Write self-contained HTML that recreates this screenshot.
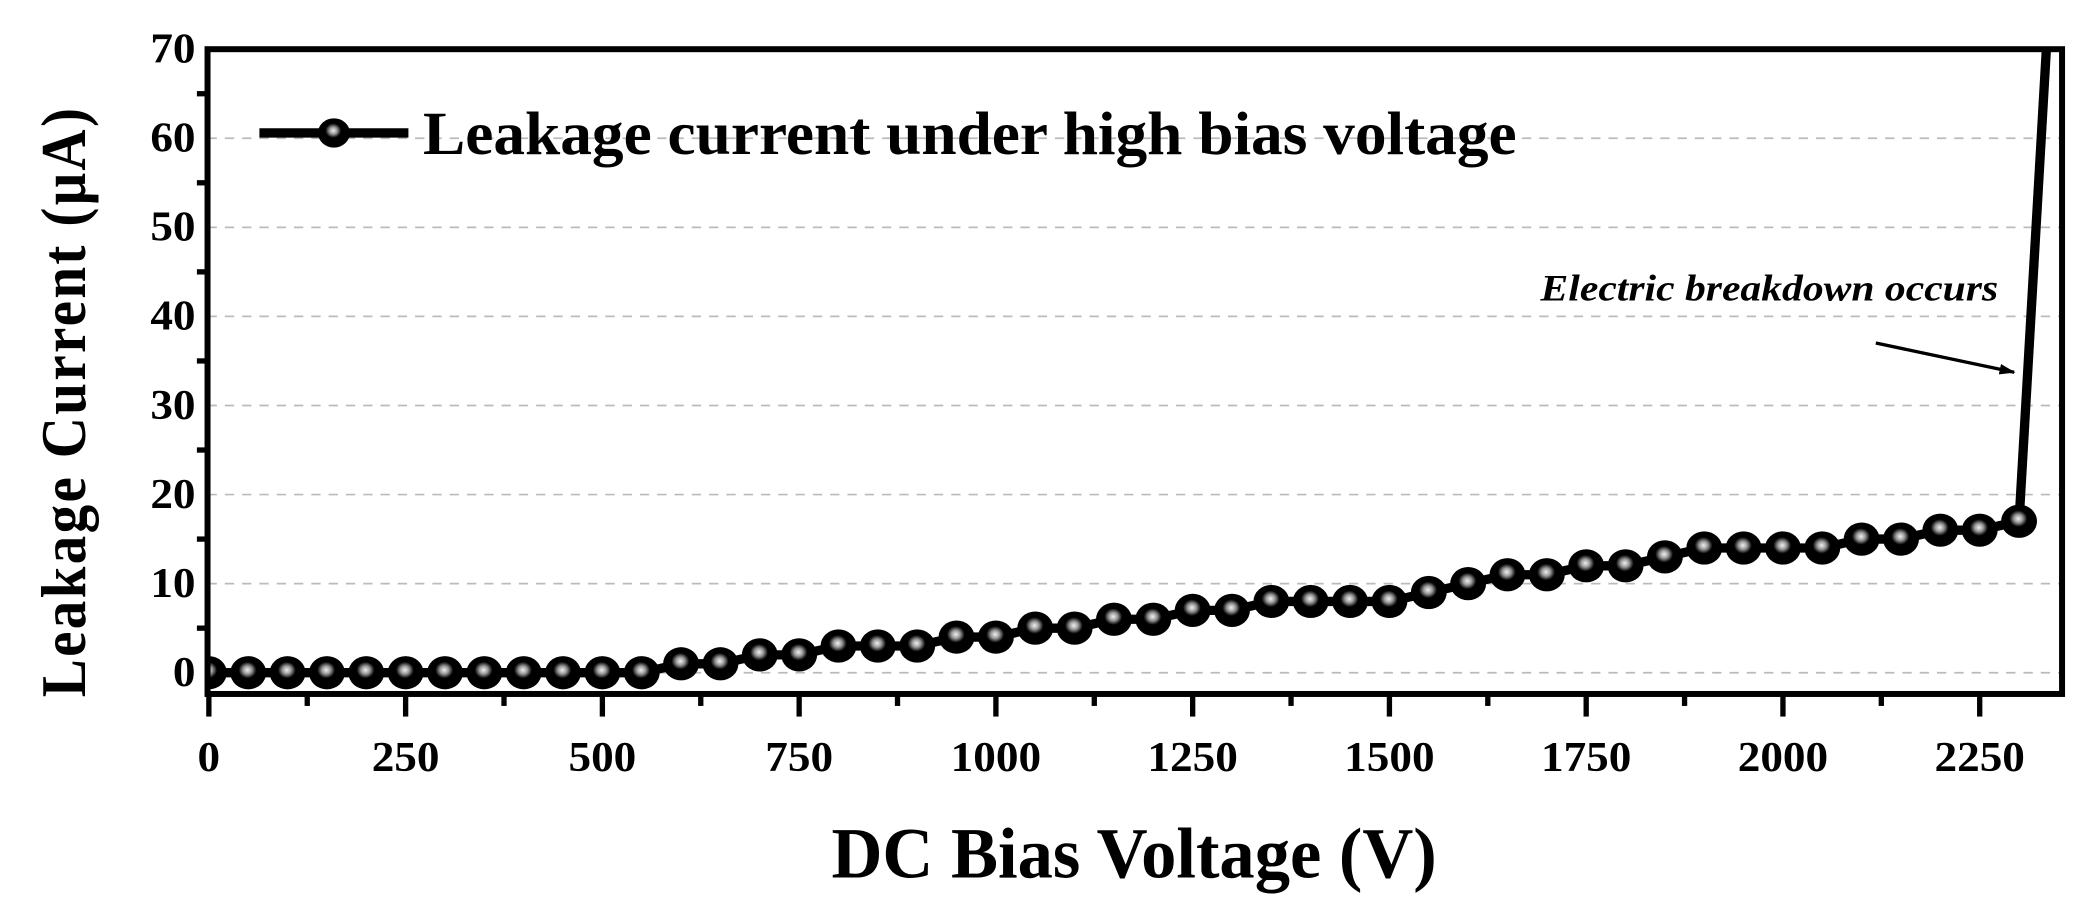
<!DOCTYPE html>
<html><head><meta charset="utf-8"><style>
html,body{margin:0;padding:0;background:#fff;}
svg{display:block;}
text{font-family:"Liberation Serif",serif;font-weight:bold;fill:#000;}
</style></head><body>
<svg id="chart" width="2086" height="912" viewBox="0 0 1568 686" preserveAspectRatio="none" xmlns="http://www.w3.org/2000/svg">
<defs>
<radialGradient id="ball" cx="0.48" cy="0.42" r="0.55">
<stop offset="0" stop-color="#f0f0f0"/><stop offset="0.22" stop-color="#999"/><stop offset="0.45" stop-color="#000"/><stop offset="1" stop-color="#000"/>
</radialGradient>
<marker id="arrowhead" markerWidth="12" markerHeight="8" refX="11" refY="4" orient="auto" markerUnits="userSpaceOnUse"><path d="M0,0 L12,4 L0,8 Z" fill="#000"/></marker>
</defs>
<g id="grid"></g>
<g id="series"></g>
<g id="axes"></g>
<text transform="translate(64,302) rotate(-90)" text-anchor="middle" font-size="48" textLength="445" lengthAdjust="spacingAndGlyphs" style="letter-spacing:2px">Leakage Current (μA)</text>
<text x="625" y="660" font-size="54" textLength="455" lengthAdjust="spacingAndGlyphs">DC Bias Voltage (V)</text>
<g>
<line x1="195" y1="100" x2="307" y2="100" stroke="#000" stroke-width="7"/>
<ellipse cx="251" cy="100" rx="12" ry="11" fill="url(#ball)"/>
<text x="318" y="116" font-size="46" textLength="822" lengthAdjust="spacingAndGlyphs">Leakage current under high bias voltage</text>
</g>
<text x="1158" y="226" font-size="28" font-style="italic" textLength="344" lengthAdjust="spacingAndGlyphs">Electric breakdown occurs</text>
<line x1="1410" y1="258" x2="1514" y2="280" stroke="#000" stroke-width="2.5" marker-end="url(#arrowhead)"/>
</svg>
<script>
const voltages=[0,50,100,150,200,250,300,350,400,450,500,550,600,650,700,750,800,850,900,950,1000,1050,1100,1150,1200,1250,1300,1350,1400,1450,1500,1550,1600,1650,1700,1750,1800,1850,1900,1950,2000,2050,2100,2150,2200,2250,2300];
const currents=[0,0,0,0,0,0,0,0,0,0,0,0,1,1,2,2,3,3,3,4,4,5,5,6,6,7,7,8,8,8,8,9,10,11,11,12,12,13,14,14,14,14,15,15,16,16,17];
const breakdownV=[2300,2336];
const breakdownI=[17,72];
const xTicks=[0,250,500,750,1000,1250,1500,1750,2000,2250];
const yTicks=[0,10,20,30,40,50,60,70];
const gridLevels=[0,10,20,30,40,50,60];
const NS="http://www.w3.org/2000/svg";
const L=156,R=1550,T=37,B=522;
const X=v=>157+v*0.5916;
const Y=c=>506-c*6.7;
function mk(tag,attrs,parent){const e=document.createElementNS(NS,tag);for(const k in attrs)e.setAttribute(k,attrs[k]);parent.appendChild(e);return e;}
const grid=document.getElementById('grid'),ser=document.getElementById('series'),ax=document.getElementById('axes');
gridLevels.forEach(g=>{const l=mk('line',{x1:L,x2:R,y1:Y(g),y2:Y(g),stroke:'#bbb','stroke-width':1.3,'stroke-dasharray':'7,6'},grid);

});
const cp=mk('clipPath',{id:'plotclip'},document.querySelector('defs'));mk('rect',{x:L,y:T,width:R-L,height:B-T},cp);
ser.setAttribute('clip-path','url(#plotclip)');
let d=voltages.map((v,i)=>(i?'L':'M')+X(v)+','+Y(currents[i])).join(' ');
d+=' L'+X(breakdownV[1])+','+Y(breakdownI[1]);
const p=mk('path',{d:d,fill:'none',stroke:'#000','stroke-width':7,'stroke-linejoin':'round'},ser);


voltages.forEach((v,i)=>{const e=mk('ellipse',{cx:X(v),cy:Y(currents[i]),rx:13.5,ry:12.5,fill:'url(#ball)'},ser);

});
const fr=mk('rect',{x:L,y:T,width:R-L,height:B-T,fill:'none',stroke:'#000','stroke-width':4.5},ax);


for(let v=0;v<=2250;v+=125){const major=v%250===0;const t=mk('line',{x1:X(v),x2:X(v),y1:B,y2:B+(major?17:9),stroke:'#000','stroke-width':4},ax);

}
xTicks.forEach(v=>{const w=String(v).length*17;const t=mk('text',{x:X(v)-w/2,y:B+58,'font-size':32,textLength:w,lengthAdjust:'spacingAndGlyphs'},ax);t.textContent=v;

});
for(let c=0;c<=70;c+=5){const major=c%10===0;const t=mk('line',{x1:L-(major?0:8),x2:L,y1:Y(c),y2:Y(c),stroke:'#000','stroke-width':4},ax);

}
yTicks.forEach(c=>{const w=String(c).length*17;const t=mk('text',{x:L-9-w,y:Y(c)+10,'font-size':32,textLength:w,lengthAdjust:'spacingAndGlyphs'},ax);t.textContent=c;

});
</script>
</body></html>
